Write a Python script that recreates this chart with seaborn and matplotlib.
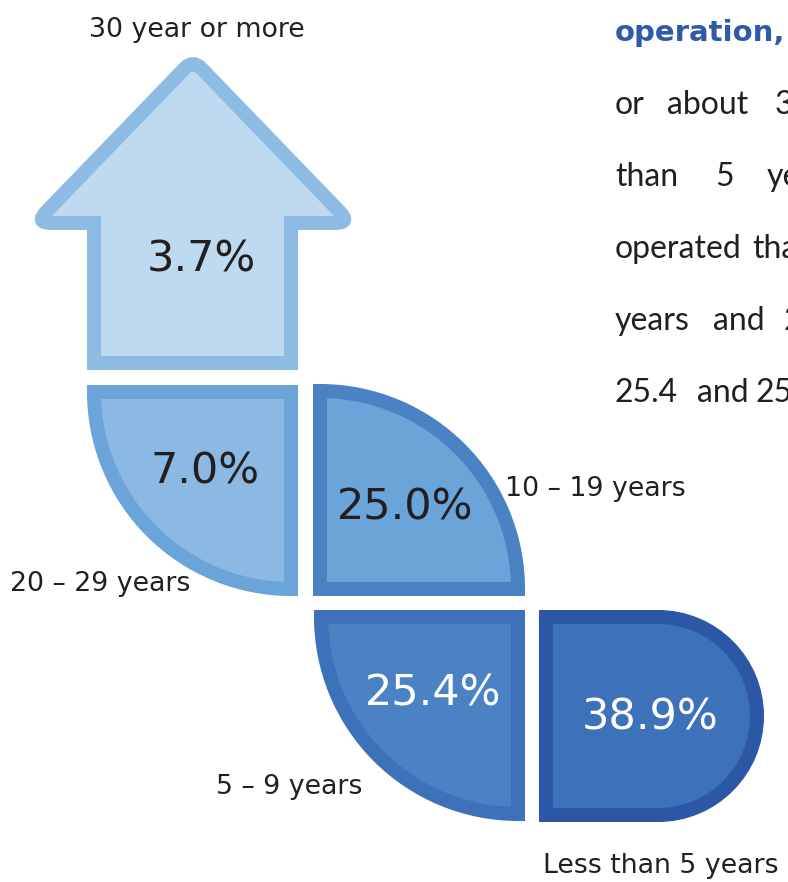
import matplotlib
matplotlib.use("Agg")
import matplotlib.pyplot as plt
import seaborn as sns
from matplotlib.patches import Wedge, PathPatch
from matplotlib.path import Path

categories = ["30 year or more", "20 – 29 years", "10 – 19 years", "5 – 9 years", "Less than 5 years"]
shares = [3.7, 7.0, 25.0, 25.4, 38.9]
fills = ["#BDDAF1", "#8BB9E4", "#6AA4D9", "#4A82C3", "#3D71B9"]
borders = ["#8DBBE4", "#6AA4D9", "#4A82C3", "#3D71B9", "#2C57A6"]
value_colors = ["#231F20", "#231F20", "#231F20", "white", "white"]

# justified body text at the right edge (cut off by the page)
body_title = "operation,"
body_words = [
    [(615, "or"), (667, "about"), (775, "38.9%")],
    [(615, "than"), (715, "5"), (767, "years")],
    [(615, "operated"), (752, "that")],
    [(615, "years"), (713, "and"), (784, "25.0%")],
    [(615, "25.4"), (697, "and"), (756, "25.0%")],
]

sns.set_theme(style="white")
plt.rcParams["font.family"] = ["DejaVu Sans"]

fig = plt.figure(figsize=(7.88, 8.82), dpi=100)
ax = fig.add_axes([0, 0, 1, 1])
ax.set_xlim(0, 788)
ax.set_ylim(882, 0)
ax.set_axis_off()

BW = 14  # border width in pixels
lw = BW * 72 / 100


def arrow(ax, fill, edge):
    M, L, C, Z = Path.MOVETO, Path.LINETO, Path.CURVE3, Path.CLOSEPOLY
    verts = [(185, 68), (193, 60), (201, 68),
             (339, 211), (351, 223), (335, 223),
             (291, 223), (291, 363), (94, 363), (94, 223),
             (51, 223), (35, 223), (47, 211),
             (185, 68), (185, 68)]
    codes = [M, C, C, L, C, C, L, L, L, L, L, C, C, L, Z]
    ax.add_patch(PathPatch(Path(verts, codes), fc=fill, ec=edge, lw=lw, joinstyle="miter"))


def quarter(ax, corner, r, t1, t2, dx, dy, fill, edge):
    # stroke is centred on the path, so pull it inward by half the border
    cx, cy = corner
    ax.add_patch(Wedge((cx + dx * BW / 2, cy + dy * BW / 2), r - BW, t1, t2,
                       fc=fill, ec=edge, lw=lw, joinstyle="miter"))


def dshape(ax, fill, edge):
    h = BW / 2
    x0, y0, y1, cx = 539 + h, 610 + h, 822 - h, 658
    r = (y1 - y0) / 2
    cy = (y0 + y1) / 2
    k = 0.5523 * r
    verts = [(x0, y0), (cx, y0),
             (cx + k, y0), (cx + r, cy - k), (cx + r, cy),
             (cx + r, cy + k), (cx + k, y1), (cx, y1),
             (x0, y1), (x0, y0)]
    codes = [Path.MOVETO, Path.LINETO, Path.CURVE4, Path.CURVE4, Path.CURVE4,
             Path.CURVE4, Path.CURVE4, Path.CURVE4, Path.LINETO, Path.CLOSEPOLY]
    ax.add_patch(PathPatch(Path(verts, codes), fc=fill, ec=edge, lw=lw, joinstyle="miter"))


arrow(ax, fills[0], borders[0])
# 20-29: corner top-right, spreads left and down
quarter(ax, (298, 385), 211, 90, 180, -1, 1, fills[1], borders[1])
# 10-19: corner bottom-left, spreads up and right
quarter(ax, (313, 596), 212, -90, 0, 1, -1, fills[2], borders[2])
# 5-9: corner top-right, spreads left and down
quarter(ax, (525, 610), 211, 90, 180, -1, 1, fills[3], borders[3])
dshape(ax, fills[4], borders[4])

value_pos = [(201, 260), (205, 472), (405, 507), (433, 693), (650, 717)]
for (x, y), v, c in zip(value_pos, shares, value_colors):
    ax.text(x, y, f"{v:.1f}%", ha="center", va="center", fontsize=31, color=c)

label_pos = [(197, 30, "center"), (10, 584, "left"), (505, 489, "left"),
             (216, 787, "left"), (543, 866, "left")]
for (x, y, ha), lab in zip(label_pos, categories):
    ax.text(x, y, lab, ha=ha, va="center", fontsize=19.3, color="#231F20")

ax.text(615, 33, body_title, ha="left", va="center", fontsize=21, color="#2E5AA8",
        fontweight="bold")
for i, line in enumerate(body_words):
    for x, w in line:
        ax.text(x, 105 + i * 72, w, ha="left", va="center", fontsize=23,
                color="#231F20", family=["Lato", "DejaVu Sans"])

fig.savefig("out.png", dpi=100)
